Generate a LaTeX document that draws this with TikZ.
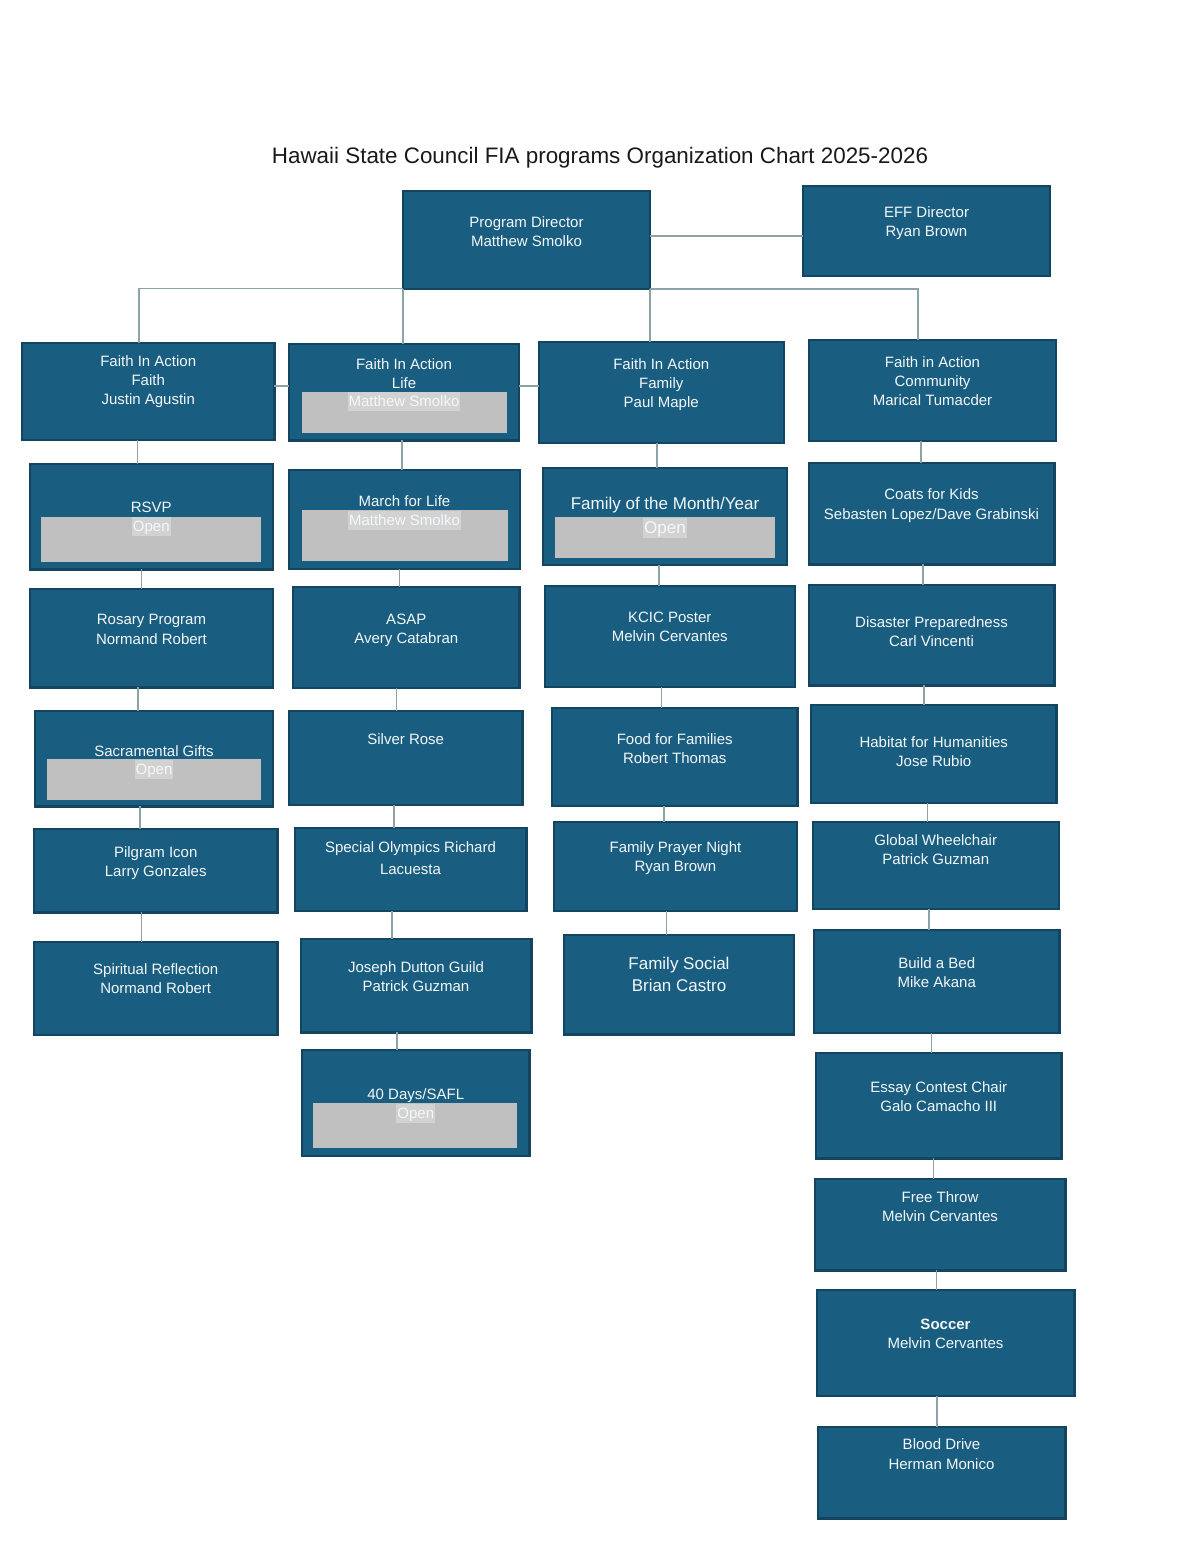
\documentclass[tikz,border=0pt]{standalone}
\usepackage{fontspec}
\setmainfont{Liberation Sans}
\definecolor{boxfill}{HTML}{195E80}
\definecolor{boxline}{HTML}{134560}
\definecolor{conncol}{HTML}{8AA4AA}
\definecolor{graybox}{HTML}{C0C0C0}
\definecolor{hlgray}{HTML}{D2D2D2}
\definecolor{txtw}{HTML}{F4F7F9}
\newcounter{lb}
\newcommand\bx[5]{\node[box, minimum width={(#4)-(#2)-2.2}, minimum height={(#5)-(#3)-2.2}] (#1) at ({((#2)+(#4))/2},{((#3)+(#5))/2}) {};}
\newcommand\gbx[5]{\node[gbox, minimum width={(#4)-(#2)}, minimum height={(#5)-(#3)}] (#1) at ({((#2)+(#4))/2},{((#3)+(#5))/2}) {};}
\newcommand\lbl[4][]{\stepcounter{lb}\node[txt,#1] (l\thelb) at (#2.center |- 0,#3) {#4};}
\newcommand\vc[3]{\draw[conn] (#1.south -| #3,0) -- (#2.north -| #3,0);}
\begin{document}
\begin{tikzpicture}[x=1pt,y=-1pt,
  box/.style={draw=boxline, line width=2.2pt, fill=boxfill, inner sep=0pt, outer sep=0pt},
  gbox/.style={fill=graybox, inner sep=0pt, outer sep=0pt},
  txt/.style={text=txtw, font=\fontsize{15}{18}\selectfont, inner sep=0pt, text height=10.75pt, text depth=0pt},
  big/.style={font=\fontsize{17}{20}\selectfont, text height=12.2pt},
  hl/.style={fill=hlgray, inner xsep=1pt, inner ysep=0pt, text height=14.9pt, text depth=4.1pt},
  conn/.style={draw=conncol, line width=1.3pt}]
\fill[white] (0,0) rectangle (1200,1552);
\useasboundingbox (0,0) rectangle (1200,1552);
\node[inner sep=0pt, text=black!90, font=\fontsize{22.4}{26}\selectfont, text height=16pt, text depth=0pt] (title) at (600,155) {Hawaii State Council FIA programs Organization Chart 2025-2026};
% boxes
\bx{PD}{402}{189.5}{651}{290}
\bx{EFF}{802}{184.5}{1051}{277}
\bx{Faith}{21}{342}{275.5}{441}
\bx{Life}{288}{343}{520}{441.5}
\bx{Fam}{537.5}{341}{785}{444}
\bx{Comm}{808}{339}{1057}{442}
\bx{RSVP}{28.5}{463}{274}{570.5}
\bx{Rosary}{29}{588}{274}{688.5}
\bx{Sacr}{34}{710}{274}{807.5}
\bx{Pilg}{33}{828}{278.5}{913.5}
\bx{Spir}{33}{940.5}{278.5}{1036}
\bx{March}{288}{469}{521}{570}
\bx{ASAP}{292}{586}{520.5}{689}
\bx{Silver}{288}{709.5}{523.5}{806}
\bx{Spec}{293.5}{827}{527.5}{912}
\bx{Jos}{299.5}{937.5}{532.5}{1033.5}
\bx{Days}{301}{1049}{530.5}{1157}
\bx{FMY}{542}{467}{788}{566}
\bx{KCIC}{543.5}{585}{796}{688}
\bx{Food}{551}{707}{798.5}{807}
\bx{Pray}{553}{820.5}{798}{912}
\bx{Soc}{563}{934}{795}{1035.5}
\bx{Coats}{807.5}{461.5}{1055.5}{565.5}
\bx{Dis}{807.5}{583.5}{1055.5}{686.5}
\bx{Hab}{810}{704}{1057.5}{804}
\bx{Glob}{811.5}{821}{1060}{910}
\bx{Bed}{813}{928.5}{1060.5}{1034}
\bx{Essay}{815}{1051.5}{1062.5}{1159.5}
\bx{Free}{813.5}{1178}{1066.5}{1271.5}
\bx{Soccer}{815.5}{1289}{1075.5}{1397}
\bx{Blood}{816.5}{1425.5}{1066.5}{1519.5}
% gray areas
\gbx{gLife}{302}{392.3}{507}{432.7}
\gbx{gRSVP}{41.4}{516.7}{261}{562}
\gbx{gMarch}{302}{510}{508}{561}
\gbx{gSacr}{47}{759}{261}{799.7}
\gbx{gDays}{313}{1102.7}{517}{1148.3}
\gbx{gFMY}{554.6}{516.7}{775}{557.7}
% connectors
\draw[conn] (PD.south west |- 0,288.5) -| (Faith.north -| 139,0);
\draw[conn] (PD.south west) -- (Life.north -| PD.south west);
\draw[conn] (PD.south east) -| (Comm.north -| 918,0);
\draw[conn] (PD.south east) -- (Fam.north -| PD.south east);
\draw[conn] (PD.east |- 0,236) -- (EFF.west |- 0,236);
\draw[conn] (Faith.east |- 0,386) -- (Life.west |- 0,386);
\draw[conn] (Life.east |- 0,386) -- (Fam.west |- 0,386);
\vc{Faith}{RSVP}{137.5}
\vc{RSVP}{Rosary}{141.8}
\vc{Rosary}{Sacr}{137.9}
\vc{Sacr}{Pilg}{140}
\vc{Pilg}{Spir}{141.4}
\vc{Life}{March}{402}
\vc{March}{ASAP}{399.6}
\vc{ASAP}{Silver}{396.8}
\vc{Silver}{Spec}{394}
\vc{Spec}{Jos}{392}
\vc{Jos}{Days}{397}
\vc{Fam}{FMY}{657}
\vc{FMY}{KCIC}{659}
\vc{KCIC}{Food}{661.4}
\vc{Food}{Pray}{664}
\vc{Pray}{Soc}{666.8}
\vc{Comm}{Coats}{921}
\vc{Coats}{Dis}{923}
\vc{Dis}{Hab}{924}
\vc{Hab}{Glob}{927.5}
\vc{Glob}{Bed}{929}
\vc{Bed}{Essay}{931.8}
\vc{Essay}{Free}{933.2}
\vc{Free}{Soccer}{936.3}
\vc{Soccer}{Blood}{937}
% texts
\lbl{PD}{221.7}{Program Director}
\lbl{PD}{240.7}{Matthew Smolko}
\lbl{EFF}{212}{EFF Director}
\lbl{EFF}{231}{Ryan Brown}
\lbl{Faith}{360.7}{Faith In Action}
\lbl{Faith}{380.3}{Faith}
\lbl{Faith}{399.3}{Justin Agustin}
\lbl{Life}{364}{Faith In Action}
\lbl{Life}{383}{Life}
\lbl[hl]{Life}{401.5}{Matthew Smolko}
\lbl{Fam}{364}{Faith In Action}
\lbl{Fam}{383}{Family}
\lbl{Fam}{402}{Paul Maple}
\lbl{Comm}{362}{Faith in Action}
\lbl{Comm}{381}{Community}
\lbl{Comm}{400}{Marical Tumacder}
\lbl{RSVP}{507.3}{RSVP}
\lbl[hl]{RSVP}{526.5}{Open}
\lbl{Rosary}{619}{Rosary Program}
\lbl{Rosary}{638.7}{Normand Robert}
\lbl{Sacr}{750.7}{Sacramental Gifts}
\lbl[hl]{Sacr}{769.5}{Open}
\lbl{Pilg}{852.3}{Pilgram Icon}
\lbl{Pilg}{871.3}{Larry Gonzales}
\lbl{Spir}{969.3}{Spiritual Reflection}
\lbl{Spir}{988.3}{Normand Robert}
\lbl{March}{500.7}{March for Life}
\lbl[hl]{March}{520}{Matthew Smolko}
\lbl{ASAP}{618.7}{ASAP}
\lbl{ASAP}{637.7}{Avery Catabran}
\lbl{Silver}{738.7}{Silver Rose}
\lbl{Spec}{846.7}{Special Olympics Richard}
\lbl{Spec}{868.7}{Lacuesta}
\lbl{Jos}{967}{Joseph Dutton Guild}
\lbl{Jos}{985.7}{Patrick Guzman}
\lbl{Days}{1094.3}{40 Days/SAFL}
\lbl[hl]{Days}{1113}{Open}
\lbl[big]{FMY}{503.3}{Family of the Month/Year}
\lbl[big,hl,text height=16pt,text depth=4.3pt]{FMY}{528}{Open}
\lbl{KCIC}{617.3}{KCIC Poster}
\lbl{KCIC}{636.3}{Melvin Cervantes}
\lbl{Food}{738.7}{Food for Families}
\lbl{Food}{757.7}{Robert Thomas}
\lbl{Pray}{846.7}{Family Prayer Night}
\lbl{Pray}{865.7}{Ryan Brown}
\lbl[big]{Soc}{963.3}{Family Social}
\lbl[big]{Soc}{985}{Brian Castro}
\lbl{Coats}{494.3}{Coats for Kids}
\lbl{Coats}{513.7}{Sebasten Lopez/Dave Grabinski}
\lbl{Dis}{621.7}{Disaster Preparedness}
\lbl{Dis}{641}{Carl Vincenti}
\lbl{Hab}{741.7}{Habitat for Humanities}
\lbl{Hab}{760.7}{Jose Rubio}
\lbl{Glob}{840.3}{Global Wheelchair}
\lbl{Glob}{859.3}{Patrick Guzman}
\lbl{Bed}{963.3}{Build a Bed}
\lbl{Bed}{982}{Mike Akana}
\lbl{Essay}{1087.3}{Essay Contest Chair}
\lbl{Essay}{1106.3}{Galo Camacho III}
\lbl{Free}{1196.7}{Free Throw}
\lbl{Free}{1216.3}{Melvin Cervantes}
\lbl[font=\bfseries\fontsize{15}{18}\selectfont]{Soccer}{1324}{Soccer}
\lbl{Soccer}{1343.3}{Melvin Cervantes}
\lbl{Blood}{1444.3}{Blood Drive}
\lbl{Blood}{1464}{Herman Monico}
\end{tikzpicture}
\end{document}
